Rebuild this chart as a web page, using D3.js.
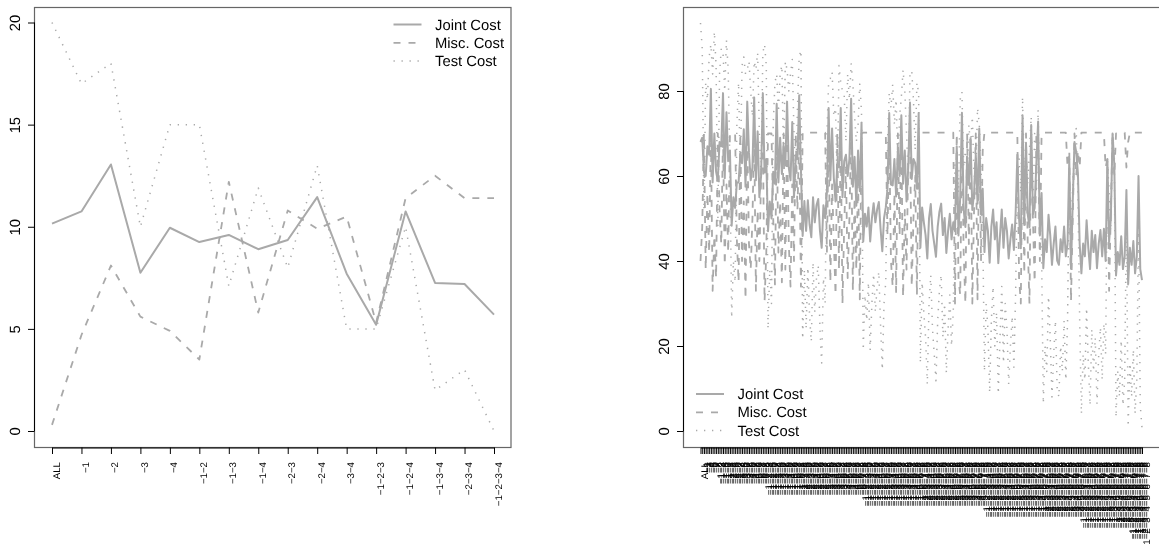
<!DOCTYPE html>
<html><head><meta charset="utf-8">
<script src="https://cdn.jsdelivr.net/npm/d3@7"></script>
<style>html,body{margin:0;padding:0;background:#fff}svg{display:block;opacity:.999;will-change:opacity}text{font-family:"Liberation Sans",Arial,sans-serif;fill:#000;text-rendering:geometricPrecision}</style>
</head><body><svg id="c" width="1159" height="544"></svg>
<script>
const seriesNames = ["Joint Cost","Misc. Cost","Test Cost"];
const leftCats = ["ALL","−1","−2","−3","−4","−1−2","−1−3","−1−4","−2−3","−2−4","−3−4","−1−2−3","−1−2−4","−1−3−4","−2−3−4","−1−2−3−4"];
const leftJoint = [10.15,10.75,13.05,7.75,9.95,9.25,9.6,8.9,9.35,11.45,7.7,5.2,10.75,7.25,7.2,5.7];
const leftMisc = [0.3,4.7,8.1,5.6,4.9,3.5,12.2,5.8,10.8,9.9,10.5,5.3,11.4,12.5,11.4,11.4];
const leftTest = [20,17,18,10,15,15,7.1,11.9,8,13,5,5,10,2,3,0];
const leftTicks = [0,5,10,15,20];
const rightTicks = [0,20,40,60,80];
const featureIds = ["1","2","3","4","5","6","7","8"];
const rightMisc = [
40,48,70,38,56,42,70,33,46,36,70,52,44,70,39,58,
42,70,70,70,70,45,35,70,40,54,31,70,44,38,50,70,
33,52,40,60,70,30.5,42,70,70,70,50,34.5,70,42,54,35,
70,38,70,44,34,58,40,70,52,70,34,70.2,70.2,70.2,70.2,70.2,
70.2,70.2,70.2,70.2,70.2,70.2,70.2,70.2,70.2,42,70,35,58,45,32,70,
38,70,30,48,62,36,50,70,33,55,38,60,31,70,70.2,70.2,
70.2,70.2,70.2,70.2,70.2,70.2,70.2,70.2,70.2,70.2,70.2,70.2,46,70,40,34,
56,32.5,70,46,70,31.5,52,38,64,70,34,50,60,32,70,70.2,
70.2,70.2,70.2,70.2,70.2,70.2,70.2,70.2,70.2,70.2,70.2,70.2,70.2,70.2,70.2,70.2,
70.2,70.2,70.2,30,70,36,32,70,42,30,70,44,70,30,52,70,
31,70,40,66,70.2,70.2,70.2,70.2,70.2,70.2,70.2,70.2,70.2,70.2,70.2,70.2,
70.2,70.2,70.2,70.2,70.2,70.2,70.2,70,36,30,70,37,70,44,30,70,
50,35,70,70,40,70,70.2,70.2,70.2,70.2,70.2,70.2,70.2,70.2,70.2,70.2,
70.2,70.2,70.2,70.2,62,66,30.5,50,70,60,66,62,70.2,70.2,70.2,70.2,
70.2,70.2,70.2,70.2,70.2,70.2,70.2,70.2,70.2,70,62,64,33,52,70,60,
70,70.2,70.2,70.2,70.2,70.2,62,68,70.2,70.2,70.2,70.2,70.2,70.2,70.2,70.2
];
const rightTest = [
96,90,52,82,78,88,91,84,94,86,48,84,90,89,80,92,
85,62,26.6,40,35,72,82,60,86,88,84,85,87,80,74,87,
85,89,70,60,89,91,86,24,38,30,72,82,84,75,84,86,
64,87,85,80,84,87.4,70,58,76,88,89.6,21.6,38,24,38.5,27,
21,39.7,28,36,39,24,16,36,30,70,82,83,84.5,74,76,56,
86,82,80,79,68,84,78,86.5,82,74,68,72,81.8,75,19,32,
26,35,19,30,37,28,34,37.5,25,14.4,30,35,68,79.6,76,81.6,
72,78,62,74,78.6,85,80,70,60,84.6,84.7,78,66,82,79.5,16,
35,28,22,11,30,36.7,24,18,11.8,26,33,36.8,22,30,13.6,24,
32,20,28,64,64,56,78,79.8,62,66,59,72,67,74,60,60,
76,72.4,62,48,14,30,24,9,26,34,20,28,8.7,22,34,16,
30,24,11,20,27,15,32,60,64,56,78.6,60,65.6,58,66,74,
52,70,56,75.6,52,42,6.4,20,14,31.7,22,8,18,26,10,8,
20,14,26,12,26,62,46,58,66,71.2,55.2,26,4,18,12,29,
16,6,24,14,22,6.4,18,24.4,12,25.3,18,64,56,48,70,65,
3.2,14,8,21.4,6,12,51.4,1,16,8,19.2,4,12,49.8,6,0.7
];
const rightJoint = [
68,69,61,60,67,65,80.5,58.5,70,61,59,68,67,79.5,59.5,75,
63.5,66,48.3,55,52.5,58.5,58.5,65,63,71,57.5,77.5,65.5,59,62,78.5,
59,70.5,55,60,79.5,60.8,64,47,54,50,61,58.2,77,58.5,69,60.5,
67,62.5,77.5,62,59,72.7,55,64,64,79,61.8,45.9,54.1,47.1,54.3,48.6,
45.6,55,49.1,53.1,54.6,47.1,43.1,53.1,50.1,56,76,59,71.2,59.5,54,63,
62,76,55,63.5,65,60,64,78.2,57.5,64.5,53,66,56.4,72.5,44.6,51.1,
48.1,52.6,44.6,50.1,53.6,49.1,52.1,53.9,47.6,42.3,50.1,52.6,57,74.8,58,57.8,
64,55.2,66,60,74.3,58.2,66,54,62,77.3,59.3,64,63,57,74.8,43.1,
52.6,49.1,46.1,40.6,50.1,53.4,47.1,44.1,41,48.1,51.6,53.5,46.1,50.1,41.9,47.1,
51.1,45.1,49.1,47,67,46,55,74.9,52,48,64.5,58,68.5,52,56,65,
53.5,71.2,51,57,42.1,50.1,47.1,39.6,48.1,52.1,45.1,49.1,39.5,46.1,52.1,43.1,
50.1,47.1,40.6,45.1,48.6,42.6,51.1,65,50,43,74.3,48.5,67.8,51,48,72,
51,52.5,63,72.8,46,56,38.3,45.1,42.1,50.9,46.1,39.1,44.1,48.1,40.1,39.1,
45.1,42.1,48.1,41.1,44,64,38.2,54,68,65.6,60.6,44,37.1,44.1,41.1,49.6,
43.1,38.1,47.1,42.1,46.1,38.3,44.1,47.3,41.1,47.6,40,64,44.5,50,70,62.6,
36.6,42.1,39.1,45.8,38.1,41.1,56.7,34.5,43.1,39.1,44.7,37.1,41.1,60,38.1,35.5
];

function combos(items,k){
  if(k===0) return [[]];
  const out=[];
  items.forEach((it,i)=>combos(items.slice(i+1),k-1).forEach(c=>out.push([it,...c])));
  return out;
}
const rightCats = ["ALL"];
for(let k=1;k<=featureIds.length;k++) combos(featureIds,k).forEach(c=>rightCats.push(c.map(d=>"−"+d).join("")));

const styles = [
  {dash:null,w:2},
  {dash:"7 8",w:1.8},
  {dash:"1.3 6.7",w:1.5}
];
const GREY="#a9a9a9";
const svg=d3.select("#c");

function panel(o){
  const g=svg.append("g");
  const x=d3.scalePoint().domain(o.cats).range(o.xr);
  const y=d3.scaleLinear().domain(o.yd).range(o.yr);
  const line=d3.line().x((d,i)=>x(o.cats[i])).y(d=>y(d));
  o.series.forEach((s,i)=>{
    g.append("path").datum(s).attr("d",line).attr("fill","none")
      .attr("stroke",GREY).attr("stroke-width",styles[i].w)
      .attr("stroke-dasharray",styles[i].dash).attr("stroke-linejoin","round");
  });
  g.append("rect").attr("x",o.box[0]).attr("y",o.box[1]).attr("width",o.box[2]-o.box[0]).attr("height",o.box[3]-o.box[1])
    .attr("fill","none").attr("stroke","#666").attr("stroke-width",1.2);
  const ax=g.append("g").attr("transform",`translate(0,${o.box[3]})`)
    .call(d3.axisBottom(x).tickSizeInner(6.5).tickSizeOuter(0));
  ax.selectAll("path,line").attr("stroke","#000").attr("stroke-width",1);
  ax.selectAll("text").attr("font-size",9.7).attr("text-anchor","end").attr("dy",null)
    .attr("y",null).attr("transform",d=>`translate(7,14.5) rotate(-90)`);
  const ay=g.append("g").attr("transform",`translate(${o.box[0]},0)`)
    .call(d3.axisLeft(y).tickValues(o.ticks).tickSizeInner(6.5).tickSizeOuter(0));
  ay.select("path").attr("d",`M0,${y(o.ticks[0])}V${y(o.ticks[o.ticks.length-1])}`);
  ay.selectAll("path,line").attr("stroke","#000").attr("stroke-width",1);
  ay.selectAll("text").attr("font-size",14.8).attr("text-anchor","middle").attr("dy",null).attr("x",null)
    .attr("transform","translate(-15,0) rotate(-90)");
  seriesNames.forEach((n,i)=>{
    const ly=o.leg[1]+i*18.3;
    g.append("line").attr("x1",o.leg[0]).attr("x2",o.leg[0]+28).attr("y1",ly).attr("y2",ly)
      .attr("stroke",GREY).attr("stroke-width",styles[i].w).attr("stroke-dasharray",styles[i].dash);
    g.append("text").attr("x",o.leg[0]+41.5).attr("y",ly+5).attr("font-size",14.8).text(n);
  });
}
panel({cats:leftCats,series:[leftJoint,leftMisc,leftTest],xr:[52,494],yd:[0,20],yr:[431,22.5],ticks:leftTicks,box:[34.5,7.5,511,447.5],leg:[393.5,24.5]});
panel({cats:rightCats,series:[rightJoint,rightMisc,rightTest],xr:[700.5,1142],yd:[0,80],yr:[431,91],ticks:rightTicks,box:[683.5,7.5,1165,447.5],leg:[696,394]});
</script></body></html>
